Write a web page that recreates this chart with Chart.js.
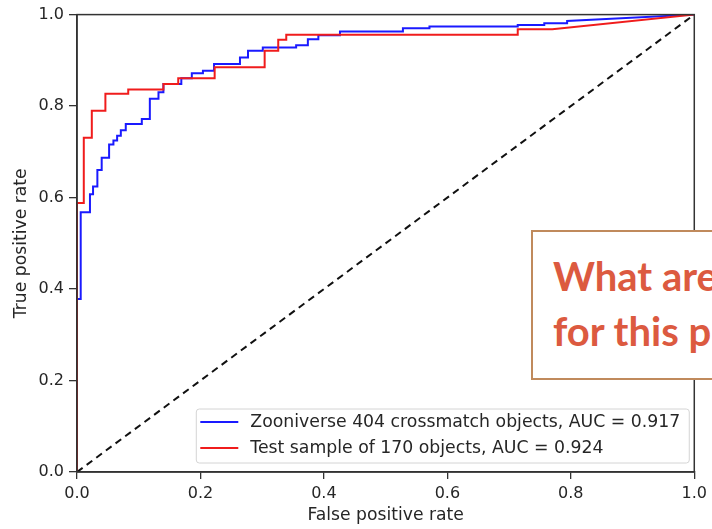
<!DOCTYPE html>
<html>
<head>
<meta charset="utf-8">
<script src="https://cdn.jsdelivr.net/npm/chart.js@4.4.1/dist/chart.umd.min.js"></script>
<style>
  body { margin: 0; background: #fff; }
  #wrap { position: relative; width: 712px; height: 529px; overflow: hidden; background: #fff; }
  #note {
    position: absolute; left: 531px; top: 230px; width: 260px; height: 150px;
    border: 2px solid #c08a5c; background: #fff;
    font-family: Lato, "Open Sans", sans-serif; font-weight: bold; font-size: 40px;
    color: #dc5a40; line-height: 55px; padding: 17px 0 0 20px; box-sizing: border-box;
    white-space: nowrap;
  }
</style>
</head>
<body>
<div id="wrap">
  <canvas id="roc" width="712" height="529"></canvas>
  <div id="note">What are<br>for this p</div>
</div>
<script>
// ROC steps: at each fpr the curve jumps up to tpr
const blueStepFpr = [0, 0.006, 0.021, 0.026, 0.033, 0.040, 0.052, 0.059, 0.065, 0.071, 0.079, 0.105,
    0.118, 0.132, 0.140, 0.169, 0.186, 0.204, 0.222, 0.264, 0.277, 0.301, 0.355, 0.374, 0.391,
    0.426, 0.528, 0.571, 0.714, 0.757, 0.794];
const blueStepTpr = [0.378, 0.568, 0.607, 0.624, 0.660, 0.687, 0.716, 0.725, 0.735, 0.747, 0.761, 0.772,
    0.816, 0.830, 0.848, 0.861, 0.872, 0.877, 0.892, 0.906, 0.921, 0.928, 0.933, 0.946, 0.955,
    0.963, 0.970, 0.974, 0.977, 0.981, 0.986];
const blueTailFpr = [1];
const blueTailTpr = [1];

const redStepFpr = [0, 0.011, 0.024, 0.046, 0.083, 0.140, 0.164, 0.223, 0.304, 0.326, 0.339, 0.714];
const redStepTpr = [0.588, 0.731, 0.790, 0.827, 0.836, 0.848, 0.861, 0.885, 0.921, 0.945, 0.956, 0.968];
const redTailFpr = [0.770, 1];
const redTailTpr = [0.968, 1];

const chanceFpr = [0, 1];
const chanceTpr = [0, 1];

const xTicks = [0, 0.2, 0.4, 0.6, 0.8, 1.0];
const yTicks = [0, 0.2, 0.4, 0.6, 0.8, 1.0];

const blueLabel = 'Zooniverse 404 crossmatch objects, AUC = 0.917';
const redLabel = 'Test sample of 170 objects, AUC = 0.924';

function rocPoints(stepFpr, stepTpr, tailFpr, tailTpr){
    const pts = [{x: 0, y: 0}];
    let prev = 0;
    for (let i = 0; i < stepFpr.length; i++) {
        pts.push({x: stepFpr[i], y: prev});
        pts.push({x: stepFpr[i], y: stepTpr[i]});
        prev = stepTpr[i];
    }
    for (let i = 0; i < tailFpr.length; i++) {
        pts.push({x: tailFpr[i], y: tailTpr[i]});
    }
    return pts;
}

const FONT = {family: 'DejaVu Sans', size: 17.2};
const TICKFONT = {family: 'DejaVu Sans', size: 16};
const TXT = '#262626';

const framePlugin = {
    id: 'frame',
    afterDatasetsDraw(chart){
        const a = chart.chartArea, c = chart.ctx;
        c.save();
        c.strokeStyle = '#333';
        c.lineWidth = 1.5;
        c.strokeRect(a.left, a.top, a.right - a.left, a.bottom - a.top);
        c.restore();
    }
};

// matplotlib style legend in the lower right corner of the plot
const insideLegend = {
    id: 'insideLegend',
    afterDraw(chart){
        const c = chart.ctx, a = chart.chartArea;
        const items = chart.data.datasets.filter(d => d.label);
        c.save();
        c.font = '17.3px ' + FONT.family;
        const textW = Math.max(...items.map(d => c.measureText(d.label).width));
        const rowH = 26, lineW = 38, gap = 12, padX = 4, padY = 0;
        const w = padX + lineW + gap + textW + 9;
        const h = padY * 2 + rowH * items.length + 2;
        const x = a.right - 5 - w, y = a.bottom - 9 - h;
        c.fillStyle = 'rgba(255,255,255,0.85)';
        c.strokeStyle = '#d4d4d4';
        c.lineWidth = 1;
        c.beginPath();
        c.roundRect(x, y, w, h, 3);
        c.fill();
        c.stroke();
        items.forEach((d, i) => {
            const cy = y + 13 + rowH * i;
            c.strokeStyle = d.borderColor;
            c.lineWidth = 2;
            c.beginPath();
            c.moveTo(x + padX, cy);
            c.lineTo(x + padX + lineW, cy);
            c.stroke();
            c.fillStyle = TXT;
            c.textBaseline = 'middle';
            c.fillText(d.label, x + padX + lineW + gap, cy + 1);
        });
        c.restore();
    }
};

const ctx = document.getElementById('roc').getContext('2d');
new Chart(ctx, {
    type: 'scatter',
    data: {
        datasets: [
            {
                label: blueLabel,
                data: rocPoints(blueStepFpr, blueStepTpr, blueTailFpr, blueTailTpr),
                borderColor: '#1a1aff',
                borderWidth: 2,
                showLine: true,
                pointRadius: 0,
                order: 2
            },
            {
                label: redLabel,
                data: rocPoints(redStepFpr, redStepTpr, redTailFpr, redTailTpr),
                borderColor: '#f01c1c',
                borderWidth: 2,
                showLine: true,
                pointRadius: 0,
                order: 1
            },
            {
                label: '',
                data: chanceFpr.map((v, i) => ({x: v, y: chanceTpr[i]})),
                borderColor: '#111',
                borderWidth: 2,
                borderDash: [7, 5],
                showLine: true,
                pointRadius: 0,
                order: 0
            }
        ]
    },
    options: {
        responsive: false,
        animation: false,
        layout: {padding: {top: 12, right: 17, left: 0, bottom: 0}},
        plugins: {legend: {display: false}, tooltip: {enabled: false}},
        scales: {
            x: {
                type: 'linear', min: 0, max: 1,
                afterBuildTicks: s => { s.ticks = xTicks.map(v => ({value: v})); },
                afterFit: s => { s.height = 57; },
                ticks: {font: TICKFONT, color: TXT, padding: 5, maxRotation: 0, callback: v => v.toFixed(1)},
                grid: {drawOnChartArea: false, tickLength: 7, color: '#333', lineWidth: 1.3},
                border: {color: '#333', width: 1.5},
                title: {display: true, text: 'False positive rate', font: FONT, color: TXT, padding: {top: 0, bottom: 3}}
            },
            y: {
                type: 'linear', min: 0, max: 1,
                afterBuildTicks: s => { s.ticks = yTicks.map(v => ({value: v})); },
                afterFit: s => { s.width = 77; },
                ticks: {font: TICKFONT, color: TXT, padding: 5, callback: v => v.toFixed(1)},
                grid: {drawOnChartArea: false, tickLength: 8, color: '#333', lineWidth: 1.3},
                border: {color: '#333', width: 1.5},
                title: {display: true, text: 'True positive rate', font: FONT, color: TXT, padding: {top: 11, bottom: 0}}
            }
        }
    },
    plugins: [framePlugin, insideLegend]
});
</script>
</body>
</html>
